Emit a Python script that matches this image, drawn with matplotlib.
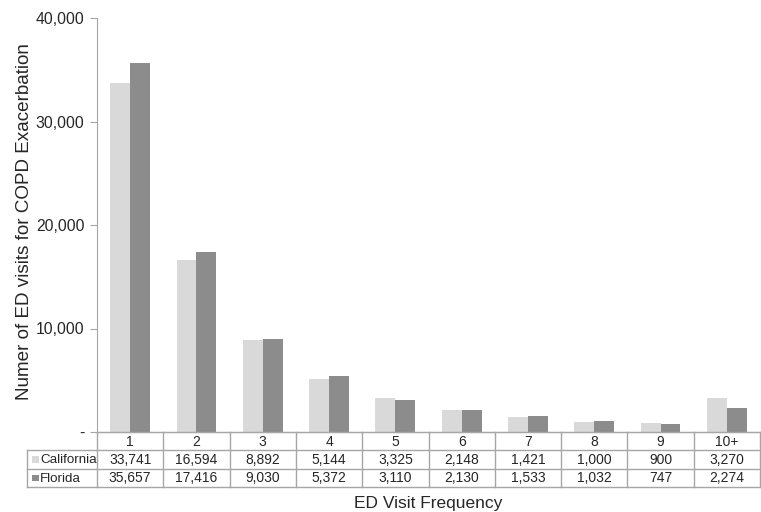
import numpy as np
import matplotlib.pyplot as plt
from matplotlib.patches import Rectangle
from matplotlib.lines import Line2D

plt.rcParams['font.family'] = ['Liberation Sans', 'DejaVu Sans']

categories = ['1', '2', '3', '4', '5', '6', '7', '8', '9', '10+']
california = [33741, 16594, 8892, 5144, 3325, 2148, 1421, 1000, 900, 3270]
florida = [35657, 17416, 9030, 5372, 3110, 2130, 1533, 1032, 747, 2274]
series_names = ['California', 'Florida']
colors = ['#d9d9d9', '#8c8c8c']
edge = '#a6a6a6'
txt = '#262626'

W, H = 761, 512
fig = plt.figure(figsize=(W / 100, H / 100), dpi=100)
ax_l, ax_r, ax_t, ax_b = 97, 760, 18, 432
ax = fig.add_axes([ax_l / W, 1 - ax_b / H, (ax_r - ax_l) / W, (ax_b - ax_t) / H])

x = np.arange(len(categories))
w = 0.3
ax.bar(x - w / 2, california, w, color=colors[0])
ax.bar(x + w / 2, florida, w, color=colors[1])

ax.set_xlim(-0.5, len(categories) - 0.5)
ax.set_ylim(0, 40000)
ax.set_yticks([0, 10000, 20000, 30000, 40000])
ax.set_yticklabels(['-', '10,000', '20,000', '30,000', '40,000'])
ax.tick_params(axis='y', direction='out', length=5, color=edge, labelsize=11.3,
               labelcolor=txt, pad=4)
ax.set_xticks([])
for s in ['top', 'right']:
    ax.spines[s].set_visible(False)
ax.spines['left'].set_color(edge)
ax.spines['bottom'].set_color(edge)
ax.set_ylabel('Numer of ED visits for COPD Exacerbation', fontsize=13.6,
              color=txt)
ax.yaxis.set_label_coords(-0.097, 0.508)


# data table drawn in pixel coordinates
def fx(px):
    return px / W


def fy(py):
    return 1 - py / H


def hline(x0, x1, y):
    fig.add_artist(Line2D([fx(x0), fx(x1)], [fy(y), fy(y)], color=edge, lw=1))


def vline(xp, y0, y1):
    fig.add_artist(Line2D([fx(xp), fx(xp)], [fy(y0), fy(y1)], color=edge, lw=1))


tab_l = 27
rows_y = [432, 450, 469, 487]
col_w = (ax_r - ax_l) / len(categories)
col_x = [ax_l + i * col_w for i in range(len(categories) + 1)]

hline(ax_l, ax_r, rows_y[0])
for yy in rows_y[1:]:
    hline(tab_l, ax_r, yy)
for xx in col_x:
    vline(xx, rows_y[0], rows_y[-1])
vline(tab_l, rows_y[1], rows_y[-1])

for i, c in enumerate(categories):
    fig.text(fx(col_x[i] + col_w / 2), fy((rows_y[0] + rows_y[1]) / 2 + 0.5), c,
             ha='center', va='center', fontsize=10, color=txt)
table_rows = [california, florida]
for r, (name, vals, col) in enumerate(zip(series_names, table_rows, colors)):
    yc = (rows_y[r + 1] + rows_y[r + 2]) / 2
    fig.patches.append(Rectangle((fx(tab_l + 5), fy(yc + 3)), 6.5 / W, 6.5 / H,
                                 transform=fig.transFigure, facecolor=col,
                                 edgecolor='none'))
    fig.text(fx(tab_l + 13), fy(yc + 0.5), name, ha='left', va='center',
             fontsize=9.6, color=txt)
    for i, v in enumerate(vals):
        fig.text(fx(col_x[i] + col_w / 2), fy(yc + 0.5), f'{v:,}', ha='center',
                 va='center', fontsize=10, color=txt)

fig.text(fx((ax_l + ax_r) / 2), fy(508), 'ED Visit Frequency', ha='center',
         va='baseline', fontsize=12.5, color=txt)

fig.savefig('out.png', dpi=100)
